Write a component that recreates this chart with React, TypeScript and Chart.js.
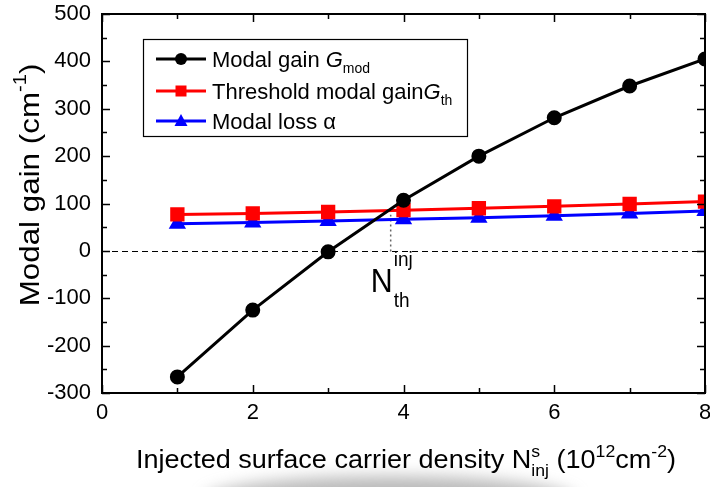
import React, { useEffect, useRef } from 'react';
import { Chart, registerables } from 'chart.js';

Chart.register(...registerables);

// ---- data ----
const densities = [1, 2, 3, 4, 5, 6, 7, 8];
const modalGain = [-266, -125, -2, 107, 200, 281, 348, 405];
const thresholdGain = [77, 79, 82, 86, 90, 94, 99, 104];
const modalLoss = [57, 60, 63, 67, 70, 74, 79, 84];
const xMajorTicks = [0, 2, 4, 6, 8];
const xMinorTicks = [1, 3, 5, 7];
const yMajorTicks = [-300, -200, -100, 0, 100, 200, 300, 400, 500];
const yMinorTicks = [-250, -150, -50, 50, 150, 250, 350, 450];
const thresholdDensity = 3.83;
const thresholdLevel = 76;

const FONT = "'Liberation Sans', Arial, Helvetica, sans-serif";

type Part = { text: string; size: number; italic?: boolean; dy?: number; stack?: Part };

function partWidth(ctx: CanvasRenderingContext2D, p: Part) {
  ctx.font = `${p.italic ? 'italic ' : ''}${p.size}px ${FONT}`;
  let w = ctx.measureText(p.text).width;
  if (p.stack) {
    ctx.font = `${p.stack.italic ? 'italic ' : ''}${p.stack.size}px ${FONT}`;
    w = Math.max(w, ctx.measureText(p.stack.text).width);
  }
  return w;
}

function drawRich(
  ctx: CanvasRenderingContext2D,
  parts: Part[],
  x: number,
  y: number,
  align: 'left' | 'center',
  sx = 1
) {
  ctx.save();
  ctx.textBaseline = 'alphabetic';
  ctx.textAlign = 'left';
  ctx.fillStyle = '#000';
  const total = parts.reduce((s, p) => s + partWidth(ctx, p), 0) * sx;
  const cx = align === 'center' ? x - total / 2 : x;
  ctx.translate(cx, y);
  ctx.scale(sx, 1);
  let pos = 0;
  for (const p of parts) {
    const w = partWidth(ctx, p);
    ctx.font = `${p.italic ? 'italic ' : ''}${p.size}px ${FONT}`;
    ctx.fillText(p.text, pos, p.dy || 0);
    if (p.stack) {
      ctx.font = `${p.stack.italic ? 'italic ' : ''}${p.stack.size}px ${FONT}`;
      ctx.fillText(p.stack.text, pos, p.stack.dy || 0);
    }
    pos += w;
  }
  ctx.restore();
}

const zeroPad = (s: any) => {
  s.paddingTop = 0;
  s.paddingBottom = 0;
  s.paddingLeft = 0;
  s.paddingRight = 0;
};

const decorPlugin = {
  id: 'decor',
  beforeDraw(chart: any) {
    const ctx = chart.ctx as CanvasRenderingContext2D;
    ctx.save();
    ctx.fillStyle = '#fff';
    ctx.fillRect(0, 0, chart.width, chart.height);
    // faint grey smudge at the bottom of the scan
    ctx.filter = 'blur(8px)';
    ctx.fillStyle = 'rgba(140,140,140,0.6)';
    ctx.beginPath();
    ctx.ellipse(390, 500, 185, 24, 0, 0, Math.PI * 2);
    ctx.fill();
    ctx.restore();
  },
  beforeDatasetsDraw(chart: any) {
    const ctx = chart.ctx as CanvasRenderingContext2D;
    const { left, right } = chart.chartArea;
    const xs = chart.scales.x;
    const ys = chart.scales.y;
    const y0 = Math.round(ys.getPixelForValue(0)) + 0.5;
    ctx.save();
    ctx.strokeStyle = '#000';
    ctx.lineWidth = 1;
    ctx.setLineDash([6, 4]);
    ctx.beginPath();
    ctx.moveTo(left, y0);
    ctx.lineTo(right, y0);
    ctx.stroke();
    const px = xs.getPixelForValue(thresholdDensity);
    ctx.strokeStyle = '#666';
    ctx.lineWidth = 1.5;
    ctx.setLineDash([2, 3]);
    ctx.beginPath();
    ctx.moveTo(px, y0);
    ctx.lineTo(px, ys.getPixelForValue(thresholdLevel));
    ctx.stroke();
    ctx.restore();
  },
  afterDraw(chart: any) {
    const ctx = chart.ctx as CanvasRenderingContext2D;
    const { left, right, top, bottom } = chart.chartArea;
    const xs = chart.scales.x;
    const ys = chart.scales.y;
    ctx.save();
    ctx.strokeStyle = '#000';
    ctx.lineWidth = 2;
    ctx.setLineDash([]);
    ctx.strokeRect(left, top, right - left, bottom - top);
    ctx.lineWidth = 1.5;
    const tick = (vals: number[], len: number, axis: 'x' | 'y') => {
      ctx.beginPath();
      for (const v of vals) {
        if (axis === 'x') {
          const p = Math.round(xs.getPixelForValue(v)) + 0.5;
          ctx.moveTo(p, bottom);
          ctx.lineTo(p, bottom - len);
          ctx.moveTo(p, top);
          ctx.lineTo(p, top + len);
        } else {
          const p = Math.round(ys.getPixelForValue(v)) + 0.5;
          ctx.moveTo(left, p);
          ctx.lineTo(left + len, p);
          ctx.moveTo(right, p);
          ctx.lineTo(right - len, p);
        }
      }
      ctx.stroke();
    };
    tick(xMajorTicks, 8, 'x');
    tick(xMinorTicks, 5, 'x');
    tick(yMajorTicks, 8, 'y');
    tick(yMinorTicks, 5, 'y');
    ctx.restore();

    // N_th^inj annotation
    const px = xs.getPixelForValue(thresholdDensity);
    const py = ys.getPixelForValue(0);
    drawRich(ctx, [{ text: 'N', size: 33 }], px - 20, py + 41, 'left', 0.92);
    drawRich(ctx, [{ text: 'inj', size: 20 }], px + 3, py + 15, 'left', 0.95);
    drawRich(ctx, [{ text: 'th', size: 20 }], px + 3, py + 56, 'left', 0.95);

    // legend
    const lx = 143, ly = 39, lw = 324, lh = 97;
    ctx.save();
    ctx.strokeStyle = '#000';
    ctx.lineWidth = 1.2;
    ctx.strokeRect(lx + 0.5, ly + 0.5, lw, lh);
    ctx.restore();
    const rows = [59, 91, 121];
    const labels: Part[][] = [
      [
        { text: 'Modal gain ', size: 22 },
        { text: 'G', size: 22, italic: true },
        { text: 'mod', size: 14, dy: 6 },
      ],
      [
        { text: 'Threshold modal gain', size: 22 },
        { text: 'G', size: 22, italic: true },
        { text: 'th', size: 14, dy: 6 },
      ],
      [
        { text: 'Modal loss ', size: 22 },
        { text: 'α', size: 22 },
      ],
    ];
    chart.data.datasets.forEach((ds: any, i: number) => {
      const cy = rows[i];
      ctx.save();
      ctx.strokeStyle = ds.borderColor;
      ctx.fillStyle = ds.backgroundColor;
      ctx.lineWidth = 3;
      ctx.beginPath();
      ctx.moveTo(156, cy);
      ctx.lineTo(206, cy);
      ctx.stroke();
      const mx = 181;
      ctx.beginPath();
      if (ds.pointStyle === 'circle') {
        ctx.arc(mx, cy, 6, 0, Math.PI * 2);
      } else if (ds.pointStyle === 'rect') {
        ctx.rect(mx - 5.5, cy - 5.5, 11, 11);
      } else {
        ctx.moveTo(mx, cy - 7);
        ctx.lineTo(mx + 6.5, cy + 5);
        ctx.lineTo(mx - 6.5, cy + 5);
        ctx.closePath();
      }
      ctx.fill();
      ctx.restore();
      drawRich(ctx, labels[i], 212, cy + 8, 'left', 1.0);
    });

    // axis titles
    drawRich(
      ctx,
      [
        { text: 'Injected surface carrier density N', size: 26 },
        { text: 's', size: 17, dy: -11, stack: { text: 'inj', size: 17, dy: 8 } },
        { text: ' (10', size: 26 },
        { text: '12', size: 17, dy: -11 },
        { text: 'cm', size: 26 },
        { text: '-2', size: 17, dy: -11 },
        { text: ')', size: 26 },
      ],
      406,
      468,
      'center',
      1.04
    );
    ctx.save();
    ctx.translate(39, 185);
    ctx.rotate(-Math.PI / 2);
    drawRich(
      ctx,
      [
        { text: 'Modal gain (cm', size: 28 },
        { text: '-1', size: 18, dy: -13 },
        { text: ')', size: 28 },
      ],
      0,
      0,
      'center',
      1.12
    );
    ctx.restore();
  },
};

export default function App() {
  const ref = useRef<HTMLCanvasElement | null>(null);
  useEffect(() => {
    document.body.style.margin = '0';
    const canvas = ref.current!;
    const chart = new Chart(canvas, {
      type: 'line',
      data: {
        datasets: [
          {
            label: 'Modal gain Gmod',
            data: densities.map((x, i) => ({ x, y: modalGain[i] })),
            borderColor: '#000000',
            backgroundColor: '#000000',
            borderWidth: 3,
            pointStyle: 'circle',
            pointRadius: 6,
            pointHoverRadius: 6,
          },
          {
            label: 'Threshold modal gain Gth',
            data: densities.map((x, i) => ({ x, y: thresholdGain[i] })),
            borderColor: '#ff0000',
            backgroundColor: '#ff0000',
            borderWidth: 3,
            pointStyle: 'rect',
            pointRadius: 8,
            pointHoverRadius: 8,
          },
          {
            label: 'Modal loss α',
            data: densities.map((x, i) => ({ x, y: modalLoss[i] })),
            borderColor: '#0000ff',
            backgroundColor: '#0000ff',
            borderWidth: 3,
            pointStyle: 'triangle',
            pointRadius: 7,
            pointHoverRadius: 7,
          },
        ],
      },
      options: {
        animation: false,
        responsive: false,
        devicePixelRatio: 1,
        layout: { autoPadding: false, padding: { top: 14, right: 5, left: 0, bottom: 0 } },
        plugins: { legend: { display: false }, tooltip: { enabled: false } },
        scales: {
          x: {
            type: 'linear',
            min: 0,
            max: 8,
            afterFit: (s: any) => {
              s.height = 94;
              zeroPad(s);
            },
            afterBuildTicks: (s: any) => {
              s.ticks = xMajorTicks.map((v) => ({ value: v }));
            },
            ticks: {
              color: '#000',
              font: { size: 22, family: FONT },
              padding: 7,
              maxRotation: 0,
            },
            grid: { display: false, drawTicks: false, tickLength: 0 },
            border: { display: false },
          },
          y: {
            type: 'linear',
            min: -300,
            max: 500,
            afterFit: (s: any) => {
              s.width = 102;
              zeroPad(s);
            },
            afterBuildTicks: (s: any) => {
              s.ticks = yMajorTicks.map((v) => ({ value: v }));
            },
            ticks: {
              color: '#000',
              font: { size: 22, family: FONT },
              padding: 11,
            },
            grid: { display: false, drawTicks: false, tickLength: 0 },
            border: { display: false },
          },
        },
      },
      plugins: [decorPlugin],
    });
    return () => chart.destroy();
  }, []);
  return <canvas ref={ref} width={710} height={487} style={{ display: 'block' }} />;
}
